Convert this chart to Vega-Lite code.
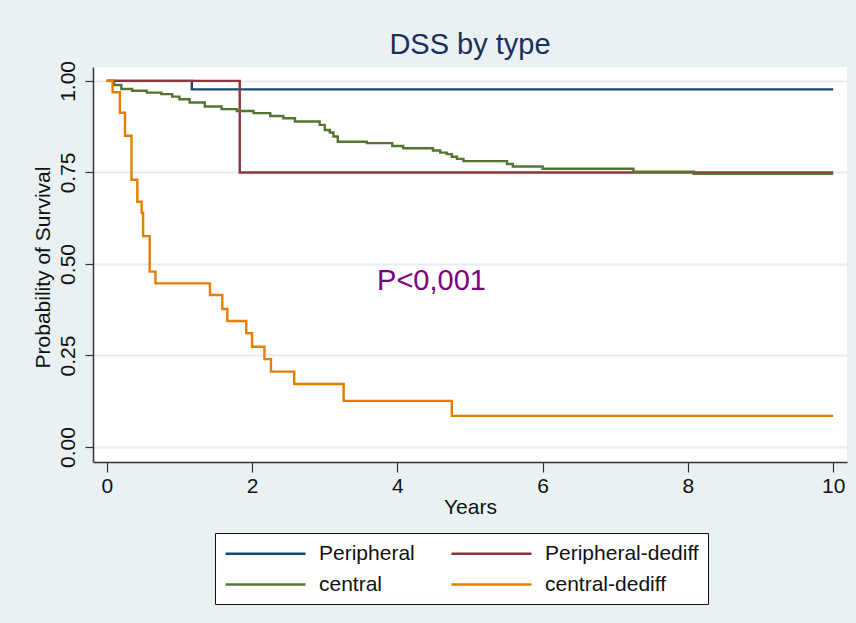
{
  "$schema": "https://vega.github.io/schema/vega-lite/v6.json",
  "width": 754,
  "height": 395,
  "autosize": {"type": "none"},
  "padding": {"left": 93, "top": 67, "right": 9, "bottom": 161},
  "background": "#e9f1f3",
  "title": {"text": "DSS by type", "fontSize": 29, "font": "Liberation Sans", "fontWeight": "normal", "color": "#1c2e5c", "offset": 0},
  "config": {
    "view": {"fill": "white", "stroke": null},
    "font": "Liberation Sans"
  },
  "datasets": {
    "km": [
      {"group": "Peripheral", "years": 0, "surv": 1.0},
      {"group": "Peripheral", "years": 1.17, "surv": 0.977},
      {"group": "Peripheral", "years": 10, "surv": 0.977},
      {"group": "Peripheral-dediff", "years": 0, "surv": 1.0},
      {"group": "Peripheral-dediff", "years": 1.83, "surv": 0.75},
      {"group": "Peripheral-dediff", "years": 10, "surv": 0.75},
      {"group": "central", "years": 0, "surv": 1.0},
      {"group": "central", "years": 0.1, "surv": 0.989},
      {"group": "central", "years": 0.2, "surv": 0.978},
      {"group": "central", "years": 0.35, "surv": 0.973},
      {"group": "central", "years": 0.55, "surv": 0.968},
      {"group": "central", "years": 0.75, "surv": 0.964},
      {"group": "central", "years": 0.9, "surv": 0.957},
      {"group": "central", "years": 1.0, "surv": 0.95},
      {"group": "central", "years": 1.14, "surv": 0.941},
      {"group": "central", "years": 1.35, "surv": 0.93},
      {"group": "central", "years": 1.58, "surv": 0.923},
      {"group": "central", "years": 1.79, "surv": 0.918},
      {"group": "central", "years": 2.02, "surv": 0.912},
      {"group": "central", "years": 2.25, "surv": 0.904},
      {"group": "central", "years": 2.43, "surv": 0.898},
      {"group": "central", "years": 2.59, "surv": 0.889},
      {"group": "central", "years": 2.93, "surv": 0.88},
      {"group": "central", "years": 3.0, "surv": 0.866},
      {"group": "central", "years": 3.07, "surv": 0.859},
      {"group": "central", "years": 3.12, "surv": 0.848},
      {"group": "central", "years": 3.18, "surv": 0.834},
      {"group": "central", "years": 3.58, "surv": 0.83},
      {"group": "central", "years": 3.93, "surv": 0.822},
      {"group": "central", "years": 4.08, "surv": 0.816},
      {"group": "central", "years": 4.49, "surv": 0.81},
      {"group": "central", "years": 4.59, "surv": 0.804},
      {"group": "central", "years": 4.68, "surv": 0.8},
      {"group": "central", "years": 4.75, "surv": 0.793},
      {"group": "central", "years": 4.82, "surv": 0.787},
      {"group": "central", "years": 4.91, "surv": 0.781},
      {"group": "central", "years": 5.51, "surv": 0.773},
      {"group": "central", "years": 5.59, "surv": 0.766},
      {"group": "central", "years": 6.0, "surv": 0.76},
      {"group": "central", "years": 7.25, "surv": 0.752},
      {"group": "central", "years": 8.08, "surv": 0.746},
      {"group": "central", "years": 10, "surv": 0.746},
      {"group": "central-dediff", "years": 0, "surv": 1.0},
      {"group": "central-dediff", "years": 0.08, "surv": 0.969},
      {"group": "central-dediff", "years": 0.18, "surv": 0.913},
      {"group": "central-dediff", "years": 0.25, "surv": 0.85},
      {"group": "central-dediff", "years": 0.34, "surv": 0.73},
      {"group": "central-dediff", "years": 0.42, "surv": 0.67},
      {"group": "central-dediff", "years": 0.48, "surv": 0.639},
      {"group": "central-dediff", "years": 0.5, "surv": 0.576},
      {"group": "central-dediff", "years": 0.59, "surv": 0.479},
      {"group": "central-dediff", "years": 0.67, "surv": 0.447},
      {"group": "central-dediff", "years": 1.42, "surv": 0.415},
      {"group": "central-dediff", "years": 1.59, "surv": 0.377},
      {"group": "central-dediff", "years": 1.66, "surv": 0.344},
      {"group": "central-dediff", "years": 1.92, "surv": 0.311},
      {"group": "central-dediff", "years": 2.0, "surv": 0.274},
      {"group": "central-dediff", "years": 2.17, "surv": 0.24},
      {"group": "central-dediff", "years": 2.26, "surv": 0.206},
      {"group": "central-dediff", "years": 2.58, "surv": 0.172},
      {"group": "central-dediff", "years": 3.26, "surv": 0.126},
      {"group": "central-dediff", "years": 4.75, "surv": 0.085},
      {"group": "central-dediff", "years": 10, "surv": 0.085}
    ],
    "note": [{"label": "P<0,001", "years": 4.47, "surv": 0.429}]
  },
  "layer": [
    {
      "data": {"name": "km"},
      "mark": {"type": "line", "interpolate": "step-after", "strokeWidth": 2.4},
      "encoding": {
        "x": {
          "field": "years", "type": "quantitative",
          "scale": {"domain": [-0.19, 10.19], "nice": false, "zero": false},
          "axis": {
            "title": "Years", "values": [0, 2, 4, 6, 8, 10], "format": "d",
            "grid": false, "tickSize": 10, "tickColor": "#333333", "tickWidth": 1.2,
            "domainColor": "#333333", "domainWidth": 1.5,
            "labelFontSize": 21, "labelFont": "Liberation Sans", "labelColor": "#111111", "labelPadding": 3,
            "titleFontSize": 21, "titleFont": "Liberation Sans", "titleFontWeight": "normal", "titleColor": "#111111", "titlePadding": 0
          }
        },
        "y": {
          "field": "surv", "type": "quantitative",
          "scale": {"domain": [-0.041, 1.038], "nice": false, "zero": false},
          "axis": {
            "title": "Probability of Survival", "values": [0, 0.25, 0.5, 0.75, 1], "format": ".2f",
            "grid": true, "gridColor": "#e6eef1", "gridWidth": 2,
            "tickSize": 8, "tickColor": "#333333", "tickWidth": 1.2,
            "domainColor": "#333333", "domainWidth": 1.5,
            "labelAngle": -90, "labelAlign": "center", "labelBaseline": "bottom",
            "labelFontSize": 21, "labelFont": "Liberation Sans", "labelColor": "#111111", "labelPadding": 7,
            "titleFontSize": 21, "titleFont": "Liberation Sans", "titleFontWeight": "normal", "titleColor": "#111111",
            "titleAngle": -90, "titleAlign": "center", "titleBaseline": "alphabetic", "titleX": -44, "titleY": 200
          }
        },
        "color": {
          "field": "group", "type": "nominal",
          "scale": {
            "domain": ["Peripheral", "Peripheral-dediff", "central", "central-dediff"],
            "range": ["#1a476f", "#90353b", "#55752f", "#e37e00"]
          },
          "legend": {
            "title": null, "orient": "none", "legendX": 122, "legendY": 466,
            "direction": "horizontal", "columns": 2, "columnPadding": 31, "rowPadding": 9,
            "symbolType": "M-1,0H7", "symbolSize": 400, "symbolStrokeWidth": 2.4,
            "labelFontSize": 21, "labelFont": "Liberation Sans", "labelColor": "#111111", "labelOffset": 72, "labelLimit": 400,
            "padding": 9, "strokeColor": "#111111", "fillColor": "white", "cornerRadius": 0
          }
        }
      }
    },
    {
      "data": {"name": "note"},
      "mark": {"type": "text", "fontSize": 29, "font": "Liberation Sans", "color": "#800080", "align": "center", "baseline": "alphabetic"},
      "encoding": {
        "x": {"field": "years", "type": "quantitative"},
        "y": {"field": "surv", "type": "quantitative"},
        "text": {"field": "label"}
      }
    }
  ]
}
